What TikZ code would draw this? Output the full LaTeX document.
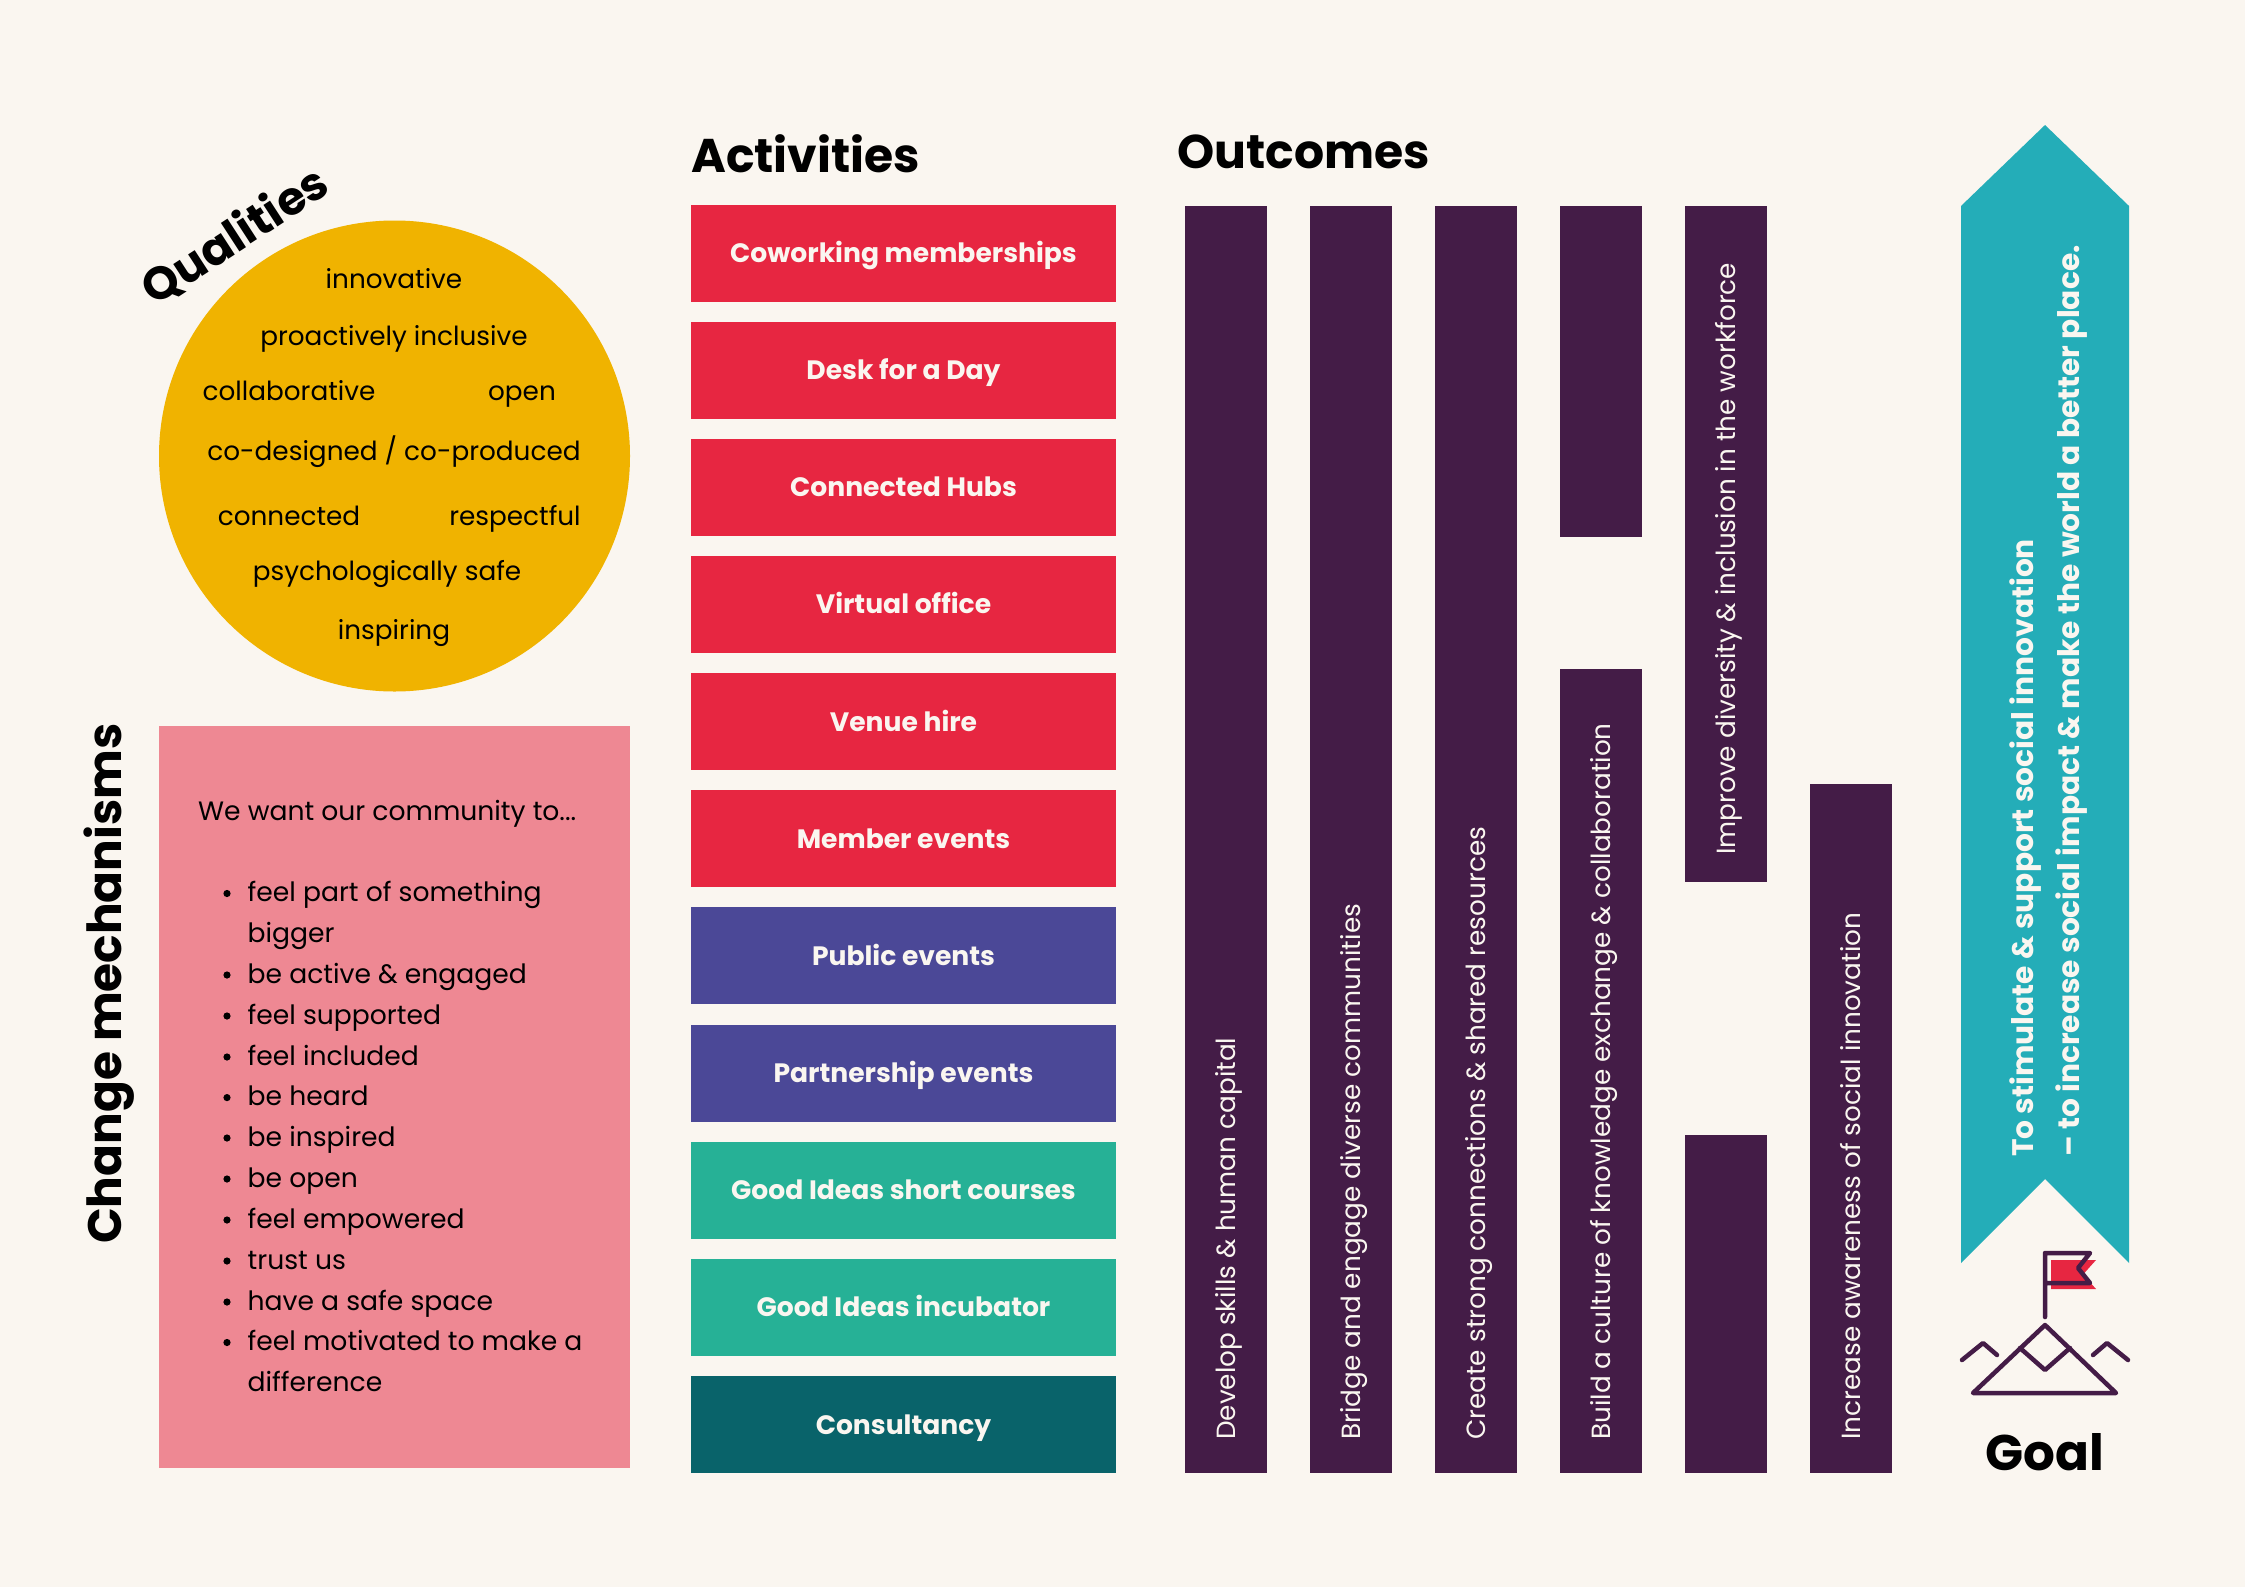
\documentclass[tikz,border=0pt]{standalone}
\usepackage{fontspec}
\setmainfont{Poppins}
\definecolor{bgc}{HTML}{FAF6F0}
\definecolor{qyellow}{HTML}{F0B300}
\definecolor{cmpink}{HTML}{EE8893}
\definecolor{actred}{HTML}{E72641}
\definecolor{actblue}{HTML}{4B4897}
\definecolor{actgreen}{HTML}{26B196}
\definecolor{actteal}{HTML}{09636A}
\definecolor{outpurple}{HTML}{441C47}
\definecolor{goalteal}{HTML}{24ADB8}
\newcommand\myfs[1]{\fontsize{#1}{#1}\selectfont}
\begin{document}
\begin{tikzpicture}[x=1pt,y=-1pt,
  titletext/.style={font=\myfs{47.3}\bfseries, text=black, inner sep=0pt, anchor=base west},
  qtext/.style={font=\myfs{26.3}, text=black, inner sep=0pt, anchor=base},
  cmtext/.style={font=\myfs{26.6}, text=black, inner sep=0pt, anchor=base west},
  actbox/.style={fill=actred, minimum width=424.5pt, minimum height=97pt, inner sep=0pt,
    text height=19pt, text depth=0pt, font=\myfs{26.6}\bfseries, text=bgc},
  outbar/.style={fill=outpurple},
  bartext/.style={font=\myfs{26.3}, text=bgc, inner sep=0pt, rotate=90, anchor=base west},
  goaltext/.style={font=\myfs{29.7}\bfseries, text=bgc, inner sep=0pt, rotate=90, anchor=base west},
  icon/.style={draw=outpurple, line width=4.5pt, line cap=round, line join=round}
]
\path[fill=bgc] (0,0) rectangle (2245,1587);
\useasboundingbox (0,0) rectangle (2245,1587);

% ---------- Qualities ----------
\node[circle, fill=qyellow, minimum size=471pt, inner sep=0pt] (qcircle) at (394.5,456) {};
\node[font=\myfs{46}\bfseries, rotate=33, inner sep=0pt] (qtitle) at (235,236) {Qualities};
\node[qtext] (q1) at (394,288) {innovative};
\node[qtext] (q2) at (394,345) {proactively inclusive};
\node[qtext] (q3) at (289,400) {collaborative};
\node[qtext] (q4) at (522,400) {open};
\node[qtext] (q5) at (394,460) {co-designed / co-produced};
\node[qtext] (q6) at (289,525) {connected};
\node[qtext] (q7) at (515,525) {respectful};
\node[qtext] (q8) at (387,580) {psychologically safe};
\node[qtext] (q9) at (394,639) {inspiring};

% ---------- Change mechanisms ----------
\node[font=\myfs{47}\bfseries, rotate=90, inner sep=0pt, anchor=base west] (cmtitle) at (121,1244) {Change mechanisms};
\node[fill=cmpink, minimum width=471pt, minimum height=742.5pt, inner sep=0pt] (cmbox) at (394.5,1097) {};
\node[cmtext] (cmintro) at (198,820) {We want our community to...};
\foreach \t/\yy [count=\i] in {feel part of something/901.5, be active \& engaged/983, feel supported/1024,
  feel included/1065, be heard/1105.6, be inspired/1146, be open/1187, feel empowered/1228,
  trust us/1269, have a safe space/1310, feel motivated to make a/1350.5}{
  \fill (227,\yy-8) circle (3.6pt);
  \node[cmtext] (cm\i) at (247.5,\yy) {\t};
}
\node[cmtext] (cm1b) at (247.5,942) {bigger};
\node[cmtext] (cm11b) at (247.5,1391) {difference};

% ---------- Activities ----------
\node[titletext] (acttitle) at (691,172) {Activities};
\foreach \t/\c [count=\i from 0] in {Coworking memberships/actred, Desk for a Day/actred,
  Connected Hubs/actred, Virtual office/actred, Venue hire/actred, Member events/actred,
  Public events/actblue, Partnership events/actblue, Good Ideas short courses/actgreen,
  Good Ideas incubator/actgreen, Consultancy/actteal}{
  \node[actbox, fill=\c] (act\i) at (903.5,253+117.15*\i) {\t};
}

% ---------- Outcomes ----------
\node[titletext] (outtitle) at (1177,168) {Outcomes};
\fill[outbar] (1184.5,206) rectangle ++(82,1266.5);
\fill[outbar] (1309.5,206) rectangle ++(82,1266.5);
\fill[outbar] (1434.5,206) rectangle ++(82,1266.5);
\fill[outbar] (1559.8,206) rectangle (1641.8,537);
\fill[outbar] (1559.8,668.7) rectangle (1641.8,1472.5);
\fill[outbar] (1685,206) rectangle (1767,882);
\fill[outbar] (1685,1134.5) rectangle (1767,1472.5);
\fill[outbar] (1809.7,783.5) rectangle (1891.7,1472.5);
\node[bartext] (o1) at (1235,1440) {Develop skills \& human capital};
\node[bartext] (o2) at (1360,1440) {Bridge and engage diverse communities};
\node[bartext] (o3) at (1485,1440) {Create strong connections \& shared resources};
\node[bartext] (o4) at (1610.3,1440) {Build a culture of knowledge exchange \& collaboration};
\node[bartext] (o5) at (1735.5,855) {Improve diversity \& inclusion in the workforce};
\node[bartext] (o6) at (1860.2,1440) {Increase awareness of social innovation};

% ---------- Goal arrow ----------
\fill[goalteal] (1961,206) -- (2045,125) -- (2129,206) -- (2129,1263) -- (2045,1179) -- (1961,1263) -- cycle;
\node[goaltext] (g1) at (2033,1157) {To stimulate \& support social innovation};
\node[goaltext] (g2) at (2079,1157) {– to increase social impact \& make the world a better place.};

% ---------- Goal icon ----------
\fill[actred] (2051,1260) -- (2096,1260) -- (2083,1274.5) -- (2096,1289) -- (2051,1289) -- cycle;
\draw[icon] (2045,1317) -- (2045,1253) -- (2090,1253) -- (2078,1268) -- (2090,1283) -- (2045,1283);
\draw[icon] (2045,1325) -- (2116,1393) -- (1973,1393) -- cycle;
\draw[icon] (2020,1348) -- (2045,1370) -- (2070,1348);
\draw[icon] (1962,1360) -- (1983,1343) -- (1997,1355);
\draw[icon] (2093,1355) -- (2107,1343) -- (2128,1360);
\node[font=\myfs{50}\bfseries, inner sep=0pt, anchor=base] (goal) at (2045,1470) {Goal};
\end{tikzpicture}
\end{document}
